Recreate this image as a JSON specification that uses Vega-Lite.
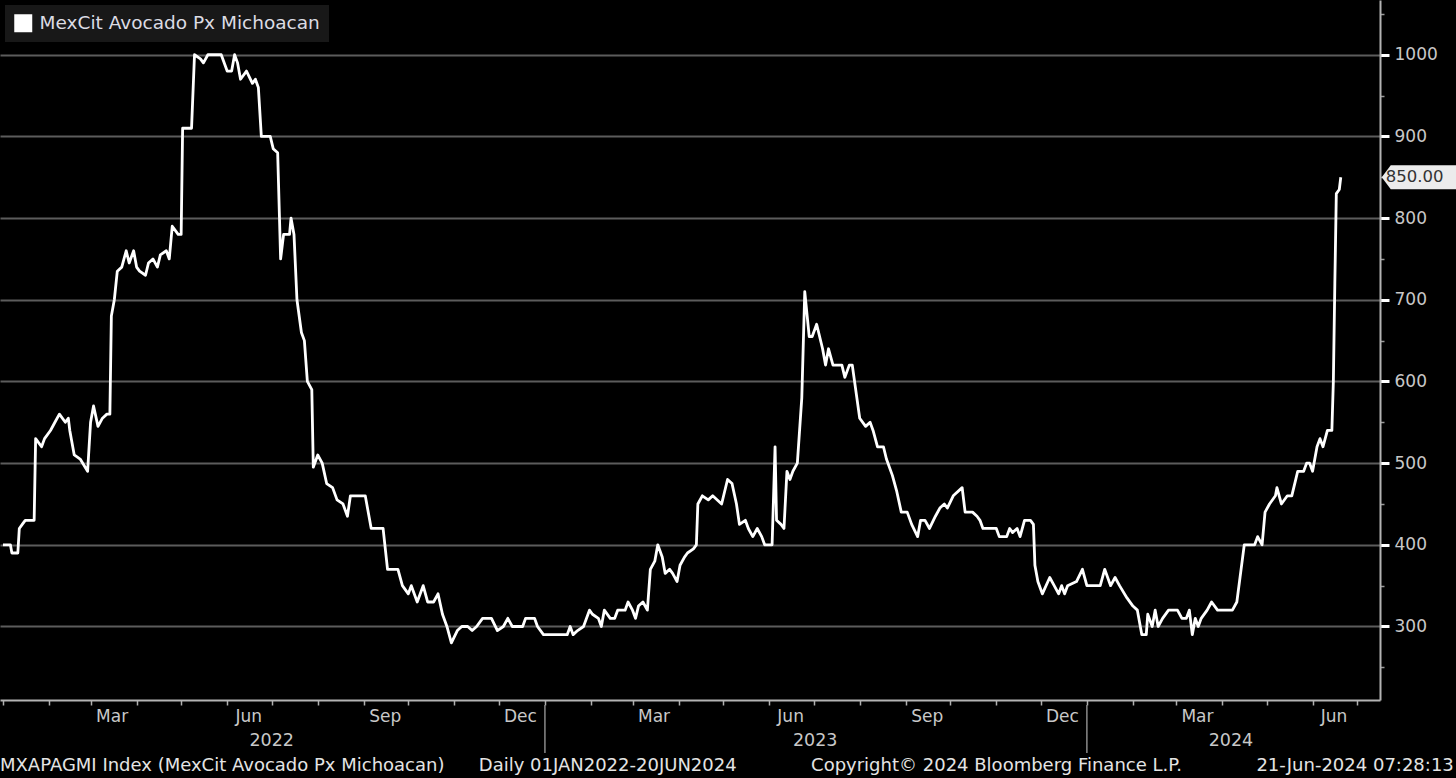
{
  "$schema": "https://vega.github.io/schema/vega-lite/v6.json",
  "width": 1380,
  "height": 700,
  "autosize": {"type": "none"},
  "padding": {"left": 0, "top": 0, "right": 76, "bottom": 78},
  "background": "#000000",
  "title": {
    "text": "MXAPAGMI Index (MexCit Avocado Px Michoacan)\u00a0\u00a0\u00a0\u00a0\u00a0 Daily 01JAN2022-20JUN2024\u00a0\u00a0\u00a0\u00a0\u00a0\u00a0\u00a0\u00a0\u00a0\u00a0\u00a0\u00a0 Copyright\u00a9 2024 Bloomberg Finance L.P.\u00a0\u00a0\u00a0\u00a0\u00a0\u00a0\u00a0\u00a0\u00a0\u00a0\u00a0\u00a0 21-Jun-2024 07:28:13",
    "orient": "bottom",
    "anchor": "start",
    "frame": "bounds",
    "offset": 3,
    "font": "DejaVu Sans",
    "fontSize": 18,
    "fontWeight": "normal",
    "color": "#e4e4e4"
  },
  "datasets": {
    "series": [
      {"date": "2022-01-01", "price": 400}, {"date": "2022-01-06", "price": 400}, {"date": "2022-01-07", "price": 390}, {"date": "2022-01-11", "price": 390},
      {"date": "2022-01-12", "price": 420}, {"date": "2022-01-14", "price": 425}, {"date": "2022-01-16", "price": 430}, {"date": "2022-01-22", "price": 430},
      {"date": "2022-01-23", "price": 530}, {"date": "2022-01-27", "price": 520}, {"date": "2022-01-29", "price": 530}, {"date": "2022-02-02", "price": 540},
      {"date": "2022-02-05", "price": 550}, {"date": "2022-02-08", "price": 560}, {"date": "2022-02-12", "price": 550}, {"date": "2022-02-14", "price": 555},
      {"date": "2022-02-15", "price": 540}, {"date": "2022-02-18", "price": 510}, {"date": "2022-02-22", "price": 505}, {"date": "2022-02-27", "price": 490},
      {"date": "2022-03-01", "price": 550}, {"date": "2022-03-03", "price": 570}, {"date": "2022-03-06", "price": 545}, {"date": "2022-03-09", "price": 555},
      {"date": "2022-03-12", "price": 560}, {"date": "2022-03-14", "price": 560}, {"date": "2022-03-15", "price": 680}, {"date": "2022-03-17", "price": 700},
      {"date": "2022-03-19", "price": 735}, {"date": "2022-03-22", "price": 740}, {"date": "2022-03-25", "price": 760}, {"date": "2022-03-27", "price": 745},
      {"date": "2022-03-30", "price": 760}, {"date": "2022-04-01", "price": 740}, {"date": "2022-04-03", "price": 735}, {"date": "2022-04-07", "price": 730},
      {"date": "2022-04-09", "price": 745}, {"date": "2022-04-12", "price": 750}, {"date": "2022-04-15", "price": 740}, {"date": "2022-04-17", "price": 755},
      {"date": "2022-04-21", "price": 760}, {"date": "2022-04-23", "price": 750}, {"date": "2022-04-25", "price": 790}, {"date": "2022-04-29", "price": 780},
      {"date": "2022-05-01", "price": 780}, {"date": "2022-05-02", "price": 910}, {"date": "2022-05-08", "price": 910}, {"date": "2022-05-10", "price": 1000},
      {"date": "2022-05-14", "price": 995}, {"date": "2022-05-16", "price": 990}, {"date": "2022-05-19", "price": 1000}, {"date": "2022-05-28", "price": 1000},
      {"date": "2022-06-01", "price": 980}, {"date": "2022-06-04", "price": 980}, {"date": "2022-06-06", "price": 1000}, {"date": "2022-06-08", "price": 990},
      {"date": "2022-06-10", "price": 970}, {"date": "2022-06-14", "price": 980}, {"date": "2022-06-18", "price": 965}, {"date": "2022-06-20", "price": 970},
      {"date": "2022-06-22", "price": 960}, {"date": "2022-06-24", "price": 900}, {"date": "2022-06-30", "price": 900}, {"date": "2022-07-02", "price": 885},
      {"date": "2022-07-05", "price": 880}, {"date": "2022-07-07", "price": 750}, {"date": "2022-07-09", "price": 780}, {"date": "2022-07-13", "price": 780},
      {"date": "2022-07-14", "price": 800}, {"date": "2022-07-16", "price": 780}, {"date": "2022-07-18", "price": 700}, {"date": "2022-07-21", "price": 660},
      {"date": "2022-07-23", "price": 650}, {"date": "2022-07-25", "price": 600}, {"date": "2022-07-28", "price": 590}, {"date": "2022-07-29", "price": 495},
      {"date": "2022-08-01", "price": 510}, {"date": "2022-08-04", "price": 500}, {"date": "2022-08-07", "price": 475}, {"date": "2022-08-11", "price": 470},
      {"date": "2022-08-14", "price": 455}, {"date": "2022-08-18", "price": 450}, {"date": "2022-08-21", "price": 435}, {"date": "2022-08-23", "price": 460},
      {"date": "2022-09-02", "price": 460}, {"date": "2022-09-06", "price": 420}, {"date": "2022-09-14", "price": 420}, {"date": "2022-09-17", "price": 370},
      {"date": "2022-09-24", "price": 370}, {"date": "2022-09-27", "price": 350}, {"date": "2022-10-01", "price": 340}, {"date": "2022-10-03", "price": 350},
      {"date": "2022-10-07", "price": 330}, {"date": "2022-10-11", "price": 350}, {"date": "2022-10-14", "price": 330}, {"date": "2022-10-18", "price": 330},
      {"date": "2022-10-21", "price": 340}, {"date": "2022-10-24", "price": 315}, {"date": "2022-10-27", "price": 300}, {"date": "2022-10-30", "price": 280},
      {"date": "2022-11-03", "price": 295}, {"date": "2022-11-06", "price": 300}, {"date": "2022-11-10", "price": 300}, {"date": "2022-11-13", "price": 295},
      {"date": "2022-11-16", "price": 300}, {"date": "2022-11-20", "price": 310}, {"date": "2022-11-26", "price": 310}, {"date": "2022-11-30", "price": 295},
      {"date": "2022-12-04", "price": 300}, {"date": "2022-12-07", "price": 310}, {"date": "2022-12-10", "price": 300}, {"date": "2022-12-17", "price": 300},
      {"date": "2022-12-19", "price": 310}, {"date": "2022-12-25", "price": 310}, {"date": "2022-12-27", "price": 300}, {"date": "2022-12-31", "price": 290},
      {"date": "2023-01-16", "price": 290}, {"date": "2023-01-18", "price": 300}, {"date": "2023-01-20", "price": 290}, {"date": "2023-01-23", "price": 295},
      {"date": "2023-01-27", "price": 300}, {"date": "2023-01-31", "price": 320}, {"date": "2023-02-02", "price": 315}, {"date": "2023-02-06", "price": 310},
      {"date": "2023-02-08", "price": 300}, {"date": "2023-02-10", "price": 320}, {"date": "2023-02-14", "price": 310}, {"date": "2023-02-17", "price": 310},
      {"date": "2023-02-19", "price": 320}, {"date": "2023-02-24", "price": 320}, {"date": "2023-02-26", "price": 330}, {"date": "2023-03-01", "price": 320},
      {"date": "2023-03-03", "price": 310}, {"date": "2023-03-05", "price": 325}, {"date": "2023-03-08", "price": 330}, {"date": "2023-03-11", "price": 320},
      {"date": "2023-03-13", "price": 370}, {"date": "2023-03-16", "price": 380}, {"date": "2023-03-18", "price": 400}, {"date": "2023-03-21", "price": 385},
      {"date": "2023-03-23", "price": 365}, {"date": "2023-03-26", "price": 370}, {"date": "2023-03-28", "price": 365}, {"date": "2023-03-31", "price": 355},
      {"date": "2023-04-02", "price": 375}, {"date": "2023-04-05", "price": 385}, {"date": "2023-04-07", "price": 390}, {"date": "2023-04-11", "price": 395},
      {"date": "2023-04-13", "price": 400}, {"date": "2023-04-14", "price": 450}, {"date": "2023-04-17", "price": 460}, {"date": "2023-04-21", "price": 455},
      {"date": "2023-04-24", "price": 460}, {"date": "2023-04-30", "price": 450}, {"date": "2023-05-04", "price": 480}, {"date": "2023-05-07", "price": 475},
      {"date": "2023-05-10", "price": 450}, {"date": "2023-05-12", "price": 425}, {"date": "2023-05-16", "price": 430}, {"date": "2023-05-18", "price": 420},
      {"date": "2023-05-21", "price": 410}, {"date": "2023-05-24", "price": 420}, {"date": "2023-05-27", "price": 410}, {"date": "2023-05-29", "price": 400},
      {"date": "2023-06-03", "price": 400}, {"date": "2023-06-05", "price": 520}, {"date": "2023-06-06", "price": 430}, {"date": "2023-06-09", "price": 425},
      {"date": "2023-06-11", "price": 420}, {"date": "2023-06-13", "price": 490}, {"date": "2023-06-15", "price": 480}, {"date": "2023-06-17", "price": 490},
      {"date": "2023-06-20", "price": 500}, {"date": "2023-06-23", "price": 580}, {"date": "2023-06-25", "price": 710}, {"date": "2023-06-28", "price": 655},
      {"date": "2023-06-30", "price": 655}, {"date": "2023-07-03", "price": 670}, {"date": "2023-07-07", "price": 640}, {"date": "2023-07-09", "price": 620},
      {"date": "2023-07-11", "price": 640}, {"date": "2023-07-14", "price": 620}, {"date": "2023-07-20", "price": 620}, {"date": "2023-07-22", "price": 605},
      {"date": "2023-07-25", "price": 620}, {"date": "2023-07-27", "price": 620}, {"date": "2023-08-01", "price": 555}, {"date": "2023-08-05", "price": 545},
      {"date": "2023-08-08", "price": 550}, {"date": "2023-08-10", "price": 540}, {"date": "2023-08-13", "price": 520}, {"date": "2023-08-17", "price": 520},
      {"date": "2023-08-19", "price": 505}, {"date": "2023-08-23", "price": 485}, {"date": "2023-08-26", "price": 465}, {"date": "2023-08-29", "price": 440},
      {"date": "2023-09-02", "price": 440}, {"date": "2023-09-05", "price": 425}, {"date": "2023-09-09", "price": 410}, {"date": "2023-09-11", "price": 430},
      {"date": "2023-09-14", "price": 430}, {"date": "2023-09-17", "price": 420}, {"date": "2023-09-21", "price": 435}, {"date": "2023-09-24", "price": 445},
      {"date": "2023-09-27", "price": 450}, {"date": "2023-09-29", "price": 445}, {"date": "2023-10-03", "price": 460}, {"date": "2023-10-09", "price": 470},
      {"date": "2023-10-11", "price": 440}, {"date": "2023-10-16", "price": 440}, {"date": "2023-10-19", "price": 435}, {"date": "2023-10-21", "price": 430},
      {"date": "2023-10-23", "price": 420}, {"date": "2023-11-01", "price": 420}, {"date": "2023-11-03", "price": 410}, {"date": "2023-11-08", "price": 410},
      {"date": "2023-11-10", "price": 420}, {"date": "2023-11-12", "price": 415}, {"date": "2023-11-15", "price": 420}, {"date": "2023-11-17", "price": 410},
      {"date": "2023-11-20", "price": 430}, {"date": "2023-11-24", "price": 430}, {"date": "2023-11-26", "price": 425}, {"date": "2023-11-27", "price": 375},
      {"date": "2023-11-29", "price": 355}, {"date": "2023-12-02", "price": 340}, {"date": "2023-12-07", "price": 360}, {"date": "2023-12-10", "price": 350},
      {"date": "2023-12-13", "price": 340}, {"date": "2023-12-15", "price": 350}, {"date": "2023-12-17", "price": 340}, {"date": "2023-12-19", "price": 350},
      {"date": "2023-12-25", "price": 355}, {"date": "2023-12-29", "price": 370}, {"date": "2024-01-01", "price": 350}, {"date": "2024-01-10", "price": 350},
      {"date": "2024-01-13", "price": 370}, {"date": "2024-01-17", "price": 350}, {"date": "2024-01-20", "price": 360}, {"date": "2024-01-23", "price": 350},
      {"date": "2024-01-28", "price": 335}, {"date": "2024-02-01", "price": 325}, {"date": "2024-02-04", "price": 320}, {"date": "2024-02-07", "price": 290},
      {"date": "2024-02-10", "price": 290}, {"date": "2024-02-11", "price": 315}, {"date": "2024-02-14", "price": 300}, {"date": "2024-02-16", "price": 320},
      {"date": "2024-02-18", "price": 300}, {"date": "2024-02-21", "price": 310}, {"date": "2024-02-25", "price": 320}, {"date": "2024-03-02", "price": 320},
      {"date": "2024-03-05", "price": 310}, {"date": "2024-03-08", "price": 310}, {"date": "2024-03-10", "price": 320}, {"date": "2024-03-12", "price": 290},
      {"date": "2024-03-14", "price": 310}, {"date": "2024-03-16", "price": 300}, {"date": "2024-03-18", "price": 310}, {"date": "2024-03-22", "price": 320},
      {"date": "2024-03-25", "price": 330}, {"date": "2024-03-29", "price": 320}, {"date": "2024-04-08", "price": 320}, {"date": "2024-04-11", "price": 330},
      {"date": "2024-04-16", "price": 400}, {"date": "2024-04-23", "price": 400}, {"date": "2024-04-25", "price": 410}, {"date": "2024-04-28", "price": 400},
      {"date": "2024-04-30", "price": 440}, {"date": "2024-05-03", "price": 450}, {"date": "2024-05-07", "price": 460}, {"date": "2024-05-08", "price": 470},
      {"date": "2024-05-11", "price": 450}, {"date": "2024-05-15", "price": 460}, {"date": "2024-05-18", "price": 460}, {"date": "2024-05-20", "price": 475},
      {"date": "2024-05-22", "price": 490}, {"date": "2024-05-26", "price": 490}, {"date": "2024-05-28", "price": 500}, {"date": "2024-05-30", "price": 500},
      {"date": "2024-06-01", "price": 490}, {"date": "2024-06-04", "price": 520}, {"date": "2024-06-06", "price": 530}, {"date": "2024-06-08", "price": 520},
      {"date": "2024-06-11", "price": 540}, {"date": "2024-06-14", "price": 540}, {"date": "2024-06-15", "price": 600}, {"date": "2024-06-16", "price": 720},
      {"date": "2024-06-17", "price": 830}, {"date": "2024-06-19", "price": 835}, {"date": "2024-06-20", "price": 850}
    ],
    "years": [
      {"yd": "2022-07-01", "year": "2022"},
      {"yd": "2023-07-02", "year": "2023"},
      {"yd": "2024-04-07", "year": "2024"}
    ],
    "seps": [
      {"d": "2023-01-01"},
      {"d": "2024-01-01"}
    ]
  },
  "layer": [
    {
      "data": {"name": "series", "format": {"parse": {"date": "date"}}},
      "mark": {"type": "line", "strokeWidth": 2.8, "interpolate": "linear", "strokeJoin": "round"},
      "encoding": {
        "x": {
          "field": "date",
          "type": "temporal",
          "scale": {
            "type": "utc",
            "domain": [
              {"year": 2021, "month": 12, "date": 30, "utc": true},
              {"year": 2024, "month": 7, "date": 16, "hours": 10, "utc": true}
            ]
          },
          "axis": {
            "title": null,
            "tickCount": {"interval": "month", "step": 1},
            "labelExpr": "utcmonth(datum.value) % 3 === 2 ? utcFormat(datum.value, '%b') : ''",
            "labelOffset": 21,
            "labelOverlap": false,
            "labelFlush": false,
            "labelBound": false,
            "labelPadding": 3,
            "labelFontSize": 17,
            "tickSize": 5,
            "tickWidth": 1.5,
            "tickColor": "#b0b0b0",
            "domainColor": "#b4b4b4",
            "domainWidth": 2,
            "grid": false
          }
        },
        "y": {
          "field": "price",
          "type": "quantitative",
          "scale": {"domain": [210, 1067], "nice": false, "zero": false},
          "axis": {
            "orient": "right",
            "title": null,
            "values": [250, 300, 350, 400, 450, 500, 550, 600, 650, 700, 750, 800, 850, 900, 950, 1000, 1050],
            "labelExpr": "datum.value % 100 === 0 ? format(datum.value, 'd') : ''",
            "labelOverlap": false,
            "labelPadding": 5,
            "labelFontSize": 17,
            "grid": true,
            "gridColor": "#5c5c5c",
            "gridWidth": 2,
            "gridOpacity": {"condition": {"test": "datum.value % 100 !== 0", "value": 0}, "value": 1},
            "tickSize": {"condition": {"test": "datum.value % 100 !== 0", "value": 4}, "value": 9},
            "tickWidth": {"condition": {"test": "datum.value % 100 !== 0", "value": 1.5}, "value": 3},
            "tickColor": {"condition": {"test": "datum.value % 100 !== 0", "value": "#9a9a9a"}, "value": "#ffffff"},
            "domainColor": "#b4b4b4",
            "domainWidth": 2
          }
        },
        "color": {
          "datum": "MexCit Avocado Px Michoacan",
          "scale": {"range": ["#ffffff"]},
          "legend": {
            "orient": "top-left",
            "title": null,
            "offset": 5,
            "padding": 9,
            "fillColor": "#181818",
            "symbolType": "square",
            "symbolSize": 324,
            "symbolFillColor": "#ffffff",
            "symbolStrokeColor": "#ffffff",
            "symbolStrokeWidth": 0,
            "labelOffset": 7,
            "labelFont": "DejaVu Sans",
            "labelFontSize": 18.5,
            "labelColor": "#dcdce4",
            "labelLimit": 500
          }
        }
      }
    },
    {
      "data": {"name": "series", "format": {"parse": {"date": "date"}}},
      "transform": [
        {"joinaggregate": [{"op": "max", "field": "date", "as": "last"}]},
        {"filter": "datum.date >= datum.last"}
      ],
      "mark": {
        "type": "point",
        "shape": "M4.1,0L5,-1.2L13,-1.2L13,1.2L5,1.2Z",
        "size": 400,
        "filled": true,
        "fill": "#ececec",
        "opacity": 1,
        "strokeWidth": 0
      },
      "encoding": {
        "x": {"field": "date", "type": "temporal"},
        "y": {"field": "price", "type": "quantitative"}
      }
    },
    {
      "data": {"name": "series", "format": {"parse": {"date": "date"}}},
      "transform": [
        {"joinaggregate": [{"op": "max", "field": "date", "as": "last"}]},
        {"filter": "datum.date >= datum.last"}
      ],
      "mark": {
        "type": "text",
        "align": "left",
        "baseline": "middle",
        "dx": 45,
        "font": "DejaVu Sans",
        "fontSize": 16.5,
        "color": "#333333"
      },
      "encoding": {
        "x": {"field": "date", "type": "temporal"},
        "y": {"field": "price", "type": "quantitative"},
        "text": {"field": "price", "type": "quantitative", "format": ".2f"}
      }
    },
    {
      "data": {"name": "years", "format": {"parse": {"yd": "date"}}},
      "mark": {
        "type": "text",
        "align": "center",
        "baseline": "middle",
        "font": "DejaVu Sans",
        "fontSize": 17.5,
        "color": "#c8c8c8"
      },
      "encoding": {
        "x": {"field": "yd", "type": "temporal"},
        "y": {"datum": 160, "type": "quantitative"},
        "text": {"field": "year", "type": "nominal"}
      }
    },
    {
      "data": {"name": "seps", "format": {"parse": {"d": "date"}}},
      "mark": {"type": "rule", "color": "#8a8a8a", "strokeWidth": 1.5},
      "encoding": {
        "x": {"field": "d", "type": "temporal"},
        "y": {"datum": 204, "type": "quantitative"},
        "y2": {"datum": 145}
      }
    }
  ],
  "config": {
    "view": {"stroke": null},
    "font": "DejaVu Sans",
    "axis": {
      "labelFont": "DejaVu Sans",
      "labelFontSize": 17,
      "labelColor": "#c8c8c8"
    }
  }
}
